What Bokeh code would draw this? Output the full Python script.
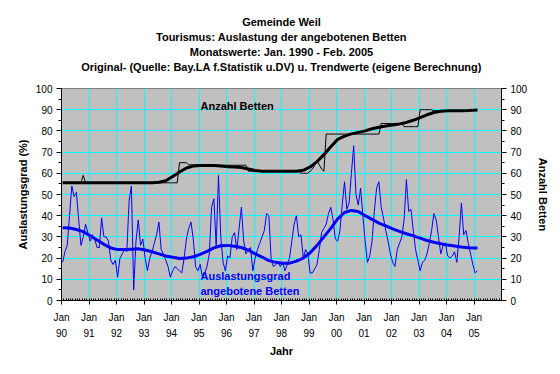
from bokeh.plotting import figure
from bokeh.models import Range1d, LinearAxis, FixedTicker, Label, Title
from bokeh.embed import file_html
from bokeh.resources import INLINE

# ---------------- data ----------------
year_labels = ["90", "91", "92", "93", "94", "95", "96", "97", "98", "99",
               "00", "01", "02", "03", "04", "05"]

title_lines = [
    "Gemeinde Weil",
    "Tourismus: Auslastung der angebotenen Betten",
    "Monatswerte: Jan. 1990 - Feb. 2005",
    "Original- (Quelle: Bay.LA f.Statistik u.DV) u. Trendwerte (eigene Berechnung)",
]

# monthly occupancy (%) Jan 1990 - Feb 2005
auslastung = [
    18, 23, 26, 40, 54, 49, 51, 38, 26, 30, 36, 32,   # 1990
    28, 31, 29, 25, 25, 39, 30, 30, 28, 19, 17, 19,   # 1991
    11, 20, 22, 24, 23, 47, 54, 5, 28, 38, 26, 29,    # 1992
    20, 14, 20, 23, 27, 31, 37, 24, 22, 19, 16, 11,   # 1993
    14, 16, 15, 14, 13, 20, 29, 34, 37, 29, 16, 14,   # 1994
    17, 11, 13, 16, 22, 44, 48, 25, 59, 30, 18, 14,   # 1995
    21, 20, 30, 32, 24, 34, 44, 28, 22, 24, 25, 14,   # 1996
    20, 24, 27, 30, 33, 41, 40, 19, 16, 17, 18, 16,   # 1997
    18, 14, 17, 20, 28, 36, 40, 30, 31, 20, 24, 22,   # 1998
    13, 13, 15, 17, 24, 32, 34, 36, 41, 44, 38, 29,   # 1999
    28, 33, 45, 56, 43, 46, 60, 73, 50, 45, 53, 40,   # 2000
    28, 18, 21, 28, 42, 53, 56, 44, 39, 33, 28, 22,   # 2001
    18, 16, 24, 27, 30, 38, 57, 42, 43, 33, 24, 19,   # 2002
    14, 18, 19, 22, 27, 33, 41, 38, 30, 22, 26, 27,   # 2003
    21, 20, 21, 23, 18, 30, 46, 31, 33, 27, 22, 17,   # 2004
    13, 14,                                           # 2005
]

# monthly number of beds
betten = [
    55.5, 55.5, 55.5, 55.5, 55.5, 55.5, 55.5, 55.5, 55.5, 59, 55.5, 55.5,
    55.5, 55.5, 55.5, 55.5, 55.5, 55.5, 55.5, 55.5, 55.5, 55.5, 55.5, 55.5,
    55.5, 55.5, 55.5, 55.5, 55.5, 55.5, 55.5, 55.5, 55.5, 55.5, 55.5, 55.5,
    55.5, 55.5, 55.5, 55.5, 55.5, 55.5, 55.5, 55.5, 55.5, 55.5, 55.5, 55.5,
    55.5, 55.5, 55.5, 65, 65, 65, 65, 64, 64, 64, 64, 64,
    63.8, 63.8, 63.8, 63.8, 63.8, 63.8, 63.8, 63.8, 63.8, 63.8, 63.8, 63.8,
    63.8, 63.8, 63.8, 63.8, 63.8, 63.8, 63.8, 63.8, 63.8, 61, 61, 61,
    61, 61, 61, 61, 61, 61, 61, 61, 61, 61, 61, 61,
    61, 61, 61, 61, 61, 61, 61, 61, 60, 60, 60, 60,
    61, 62, 64, 66, 64, 62, 61, 78.5, 78.5, 78.5, 78.5, 78.5,
    78.5, 78.5, 78.5, 78.5, 78.5, 78.5, 78.5, 78.5, 78.5, 78.5, 78.5, 78.5,
    78.5, 78.5, 78.5, 78.5, 78.5, 78.5, 78.5, 83.5, 83.5, 83.5, 83.5, 83.5,
    83.5, 83.5, 83.5, 83.5, 83.5, 82, 82, 82, 82, 82, 82, 82,
    90, 90, 90, 90, 90, 90, 89.5, 89.5, 89.5, 89.5, 89.5, 89.5,
    89.5, 89.5, 89.5, 89.5, 89.5, 89.5, 89.5, 89.5, 89.5, 89.5, 89.5, 89.5,
    89.5, 89.5,
]

# trend values (read every third month)
trend_monate = [0, 3, 6, 9, 12, 15, 18, 21, 24, 27, 30, 33, 36, 39, 42, 45,
                48, 51, 54, 57, 60, 63, 66, 69, 72, 75, 78, 81, 84, 87, 90, 93,
                96, 99, 102, 105, 108, 111, 114, 117, 120, 123, 126, 129, 132,
                135, 138, 141, 144, 147, 150, 153, 156, 159, 162, 165, 168, 171,
                174, 177, 180, 181]
trend_auslastung = [34.3, 34.2, 33.5, 32.5, 30.5, 28.5, 26.5, 24.8, 24.0, 24.0,
                    24.2, 24.4, 23.8, 23.0, 22.0, 21.0, 20.4, 19.8, 20.0, 20.6,
                    21.8, 23.2, 24.8, 25.8, 26.0, 25.6, 25.0, 23.8, 22.0, 20.5,
                    18.8, 18.0, 17.6, 17.6, 18.6, 20.0, 22.5, 26.0, 30.0, 34.0,
                    38.5, 41.5, 42.5, 42.0, 40.0, 38.3, 36.5, 35.2, 33.8, 32.6,
                    31.5, 30.5, 29.4, 28.3, 27.5, 26.8, 26.2, 25.7, 25.2, 24.9,
                    24.8, 24.8]
trend_betten = [55.5, 55.5, 55.5, 55.5, 55.5, 55.5, 55.5, 55.5, 55.5, 55.5,
                55.5, 55.5, 55.5, 55.5, 55.8, 56.5, 58.5, 60.6, 62.5, 63.4,
                63.7, 63.7, 63.7, 63.4, 63.1, 63.0, 62.7, 62.0, 61.3, 61.0,
                61.0, 61.0, 61.0, 61.0, 61.0, 61.4, 63.0, 65.5, 68.8, 72.5,
                76.0, 77.5, 78.6, 79.3, 80.0, 81.0, 81.7, 82.3, 82.8, 83.3,
                84.0, 85.0, 86.3, 87.6, 88.7, 89.3, 89.5, 89.5, 89.5, 89.6,
                89.8, 89.8]

# ---------------- figure ----------------
FONT = "Liberation Sans"
months_total = 12 * len(year_labels)

p = figure(frame_width=440, frame_height=212,
           min_border_left=61, min_border_right=59,
           min_border_top=88, min_border_bottom=74,
           x_range=Range1d(0, months_total), y_range=Range1d(0, 100),
           output_backend="svg", toolbar_location=None)
p.background_fill_color = "#C0C0C0"
p.border_fill_color = "white"
p.outline_line_color = "#808080"

# spacer between frame and the title block
p.add_layout(Title(text=" ", text_font=FONT, text_font_size="5px", standoff=6.5), "above")
# stacked title lines: first added is nearest to the frame
for line in reversed(title_lines):
    p.add_layout(Title(text=line, align="center", text_font=FONT,
                       text_font_size="11px", text_font_style="bold",
                       text_color="black", standoff=1),
                 "above")

major_x = [12 * i for i in range(len(year_labels))]
p.xaxis.ticker = FixedTicker(ticks=major_x, minor_ticks=list(range(months_total + 1)))
p.xaxis.major_label_overrides = {12 * i: "Jan\n" + y for i, y in enumerate(year_labels)}
p.xgrid.ticker = FixedTicker(ticks=major_x)
p.yaxis.ticker = FixedTicker(ticks=list(range(0, 101, 10)), minor_ticks=list(range(0, 101, 5)))
p.ygrid.ticker = FixedTicker(ticks=list(range(0, 101, 10)))
for g in (p.xgrid, p.ygrid):
    g.grid_line_color = "#00FFFF"
    g.grid_line_width = 1

right = LinearAxis(ticker=FixedTicker(ticks=list(range(0, 101, 10)),
                                      minor_ticks=list(range(0, 101, 5))))
p.add_layout(right, "right")

p.xaxis.axis_label = "Jahr"
p.yaxis[0].axis_label = "Auslastungsgrad (%)"
right.axis_label = "Anzahl Betten"

for ax in p.axis:
    ax.axis_line_color = "black"
    ax.major_tick_line_color = "black"
    ax.minor_tick_line_color = "black"
    ax.major_label_text_font = FONT
    ax.major_label_text_font_size = "10px"
    ax.major_label_text_color = "black"
    ax.axis_label_text_font = FONT
    ax.axis_label_text_font_size = "11px"
    ax.axis_label_text_font_style = "bold"
    ax.axis_label_text_color = "black"

p.xaxis.major_tick_out = 4
p.xaxis.major_tick_in = 0
p.xaxis.minor_tick_in = 2
p.xaxis.minor_tick_out = 0
p.xaxis.major_label_standoff = 7
p.xaxis.major_label_text_line_height = 1.5
p.xaxis.axis_label_standoff = 3

for ax in (p.yaxis[0], right):
    ax.major_tick_out = 5
    ax.major_tick_in = 0
    ax.minor_tick_out = 3
    ax.minor_tick_in = 0
    ax.major_label_standoff = 4
p.yaxis[0].axis_label_standoff = 4
right.axis_label_standoff = 7

# ---------------- series ----------------
x_month = [i + 0.5 for i in range(len(auslastung))]
x_trend = [m + 0.5 for m in trend_monate]

p.line(x_month, betten, line_color="black", line_width=1)
p.line(x_trend, trend_betten, line_color="black", line_width=3)
p.line(x_month, auslastung, line_color="#0000FF", line_width=1)
p.line(x_trend, trend_auslastung, line_color="#0000FF", line_width=3)

# ---------------- texts inside the plot area ----------------
def px_to_x(px):
    return (px - 61) / 440 * months_total

def py_to_y(py):
    return (300 - py) / 2.12

p.add_layout(Label(x=px_to_x(200), y=py_to_y(105.5), text="Anzahl Betten",
                   text_align="left", text_baseline="middle", text_font=FONT,
                   text_font_size="11px", text_font_style="bold", text_color="black"))
p.add_layout(Label(x=px_to_x(200), y=py_to_y(275.5), text="Auslastungsgrad",
                   text_align="left", text_baseline="middle", text_font=FONT,
                   text_font_size="11px", text_font_style="bold", text_color="#0000FF"))
p.add_layout(Label(x=px_to_x(200), y=py_to_y(290.5), text="angebotene Betten",
                   text_align="left", text_baseline="middle", text_font=FONT,
                   text_font_size="11px", text_font_style="bold", text_color="#0000FF"))

open("out.html", "w").write(file_html(p, INLINE))
